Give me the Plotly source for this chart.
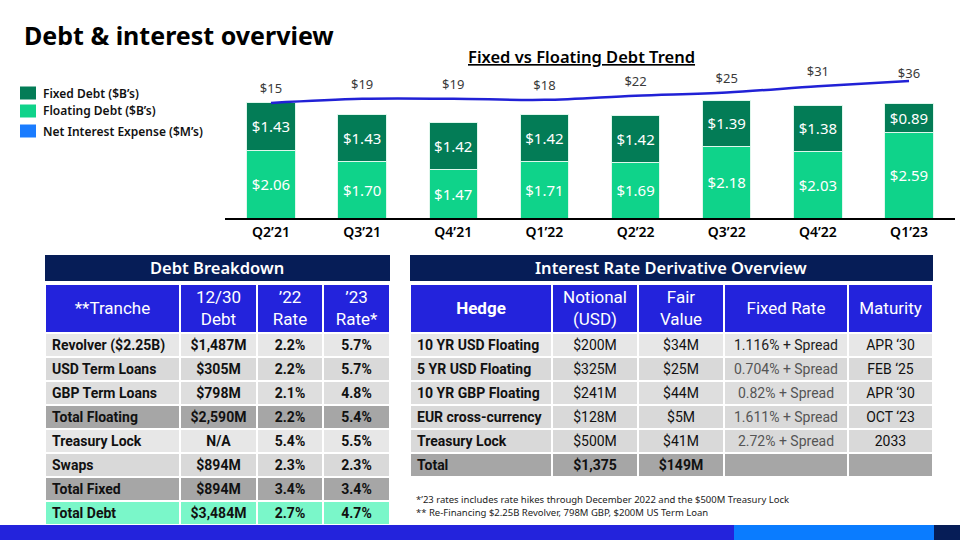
import plotly.graph_objects as go

# ---------------- data ----------------
quarters = ["Q2’21", "Q3’21", "Q4’21", "Q1’22", "Q2’22", "Q3’22", "Q4’22", "Q1’23"]
fixed_debt = [1.43, 1.43, 1.42, 1.42, 1.42, 1.39, 1.38, 0.89]
floating_debt = [2.06, 1.70, 1.47, 1.71, 1.69, 2.18, 2.03, 2.59]
net_interest = [15, 19, 19, 18, 22, 25, 31, 36]

debt_header = ["**Tranche", "12/30<br>Debt", "’22<br>Rate", "’23<br>Rate*"]
debt_tranche = ["Revolver ($2.25B)", "USD Term Loans", "GBP Term Loans", "Total Floating",
                "Treasury Lock", "Swaps", "Total Fixed", "Total Debt"]
debt_amount = ["$1,487M", "$305M", "$798M", "$2,590M", "N/A", "$894M", "$894M", "$3,484M"]
rate_22 = ["2.2%", "2.2%", "2.1%", "2.2%", "5.4%", "2.3%", "3.4%", "2.7%"]
rate_23 = ["5.7%", "5.7%", "4.8%", "5.4%", "5.5%", "2.3%", "3.4%", "4.7%"]

deriv_header = ["<b>Hedge</b>", "Notional<br>(USD)", "Fair<br>Value", "Fixed Rate", "Maturity"]
hedge = ["10 YR USD Floating", "5 YR USD Floating", "10 YR GBP Floating",
         "EUR cross-currency", "Treasury Lock", "Total"]
notional = ["$200M", "$325M", "$241M", "$128M", "$500M", "$1,375"]
fair_value = ["$34M", "$25M", "$44M", "$5M", "$41M", "$149M"]
fixed_rate = ["1.116% + Spread", "0.704% + Spread", "0.82% + Spread",
              "1.611% + Spread", "2.72% + Spread", ""]
maturity = ["APR ‘30", "FEB ‘25", "APR ‘30", "OCT ‘23", "2033", ""]

footnotes = ["*’23 rates includes rate hikes through December 2022 and the $500M Treasury Lock",
             "** Re-Financing $2.25B Revolver, 798M GBP, $200M US Term Loan"]

# ---------------- styles ----------------
FONT = "Noto Sans"
TFONT = "Roboto"
C_FIXED = "#037c56"
C_FLOAT = "#0fd38a"
C_NIE_LEG = "#1a7cff"
C_LINE = "#2121d6"
C_NAVY = "#061d57"
C_BLUE = "#2323dc"
# fill palette used by the table cells (code -> colour)
FILLS = [C_BLUE, "#e7e7e7", "#d9d9d9", "#dedede", "#a6a6a6", "#7af7c9"]

W, H = 960, 540


def px(x):
    return x / W


def py(y):
    return 1 - y / H


fig = go.Figure()

fig.add_trace(go.Bar(
    x=quarters, y=floating_debt, name="Floating Debt ($B’s)",
    marker=dict(color=C_FLOAT, line=dict(color="#dff7ec", width=1)),
    texttemplate="$%{y:.2f}", textposition="inside", insidetextanchor="middle",
    textfont=dict(color="white", size=15, family=FONT), showlegend=False, hoverinfo="skip",
))
fig.add_trace(go.Bar(
    x=quarters, y=fixed_debt, name="Fixed Debt ($B’s)",
    marker=dict(color=C_FIXED, line=dict(color="#dff7ec", width=1)),
    texttemplate="$%{y:.2f}", textposition="inside", insidetextanchor="middle",
    textfont=dict(color="white", size=15, family=FONT), showlegend=False, hoverinfo="skip",
))
fig.add_trace(go.Scatter(
    x=quarters, y=net_interest, yaxis="y2", mode="lines+markers+text",
    line=dict(color=C_LINE, width=2.5, shape="spline"),
    marker=dict(size=[9] * (len(net_interest) - 1) + [0], opacity=0, line=dict(width=0)),
    text=[f"${v}" for v in net_interest], textposition="top center",
    textfont=dict(color="#3a3a3a", size=13, family=FONT),
    cliponaxis=False, showlegend=False, hoverinfo="skip",
))

# ---------------- tables (heatmap cells + text) ----------------
TOP = 284
HEAD_H = 49
ROW_H = 24
layout_axes = {}


def add_table(idx, x0, widths, header, columns, row_codes, bold_cols, col_colors, bold_rows=()):
    nrows = len(columns[0])
    xe = [0]
    for w in widths:
        xe.append(xe[-1] + w)
    ye = [0, HEAD_H] + [HEAD_H + ROW_H * (r + 1) for r in range(nrows)]
    total_w, total_h = xe[-1], ye[-1]
    codes = [[0] * len(widths)] + [[c] * len(widths) for c in row_codes]
    n = len(FILLS)
    cs = []
    for k, c in enumerate(FILLS):
        cs += [[k / n, c], [(k + 1) / n, c]]
    xa, ya = f"x{idx}", f"y{idx}"
    fig.add_trace(go.Heatmap(
        x=xe, y=ye, z=codes, colorscale=cs, zmin=-0.5, zmax=n - 0.5, showscale=False,
        xgap=2, ygap=2, hoverinfo="skip", xaxis=xa, yaxis=ya,
    ))
    tx, ty, tt, tpos, tcol, tsize = [], [], [], [], [], []
    for ci, lab in enumerate(header):
        tx.append((xe[ci] + xe[ci + 1]) / 2)
        ty.append((ye[0] + ye[1]) / 2 + 1)
        tt.append(lab)
        tpos.append("middle center")
        tcol.append("white")
        tsize.append(17)
    for ci, col in enumerate(columns):
        for ri, val in enumerate(col):
            left = ci == 0
            tx.append(xe[ci] + 7 if left else (xe[ci] + xe[ci + 1]) / 2)
            ty.append((ye[ri + 1] + ye[ri + 2]) / 2 + 1.5)
            bold = ci in bold_cols or ri in bold_rows
            tt.append(f"<b>{val}</b>" if (bold and val) else val)
            tpos.append("middle right" if left else "middle center")
            tcol.append(col_colors[ci][ri])
            tsize.append(14)
    fig.add_trace(go.Scatter(
        x=tx, y=ty, text=tt, mode="text", textposition=tpos,
        textfont=dict(color=tcol, size=tsize, family=TFONT),
        xaxis=xa, yaxis=ya, hoverinfo="skip", showlegend=False, cliponaxis=False,
    ))
    layout_axes[f"xaxis{idx}"] = dict(domain=[px(x0), px(x0 + total_w)], range=[0, total_w],
                                      visible=False, anchor=ya, fixedrange=True)
    layout_axes[f"yaxis{idx}"] = dict(domain=[py(TOP + total_h), py(TOP)], range=[total_h, 0],
                                      visible=False, anchor=xa, fixedrange=True)


DARK = "#111111"
debt_cols = [debt_tranche, debt_amount, rate_22, rate_23]
add_table(3, 45, [135, 77, 66, 67], debt_header, debt_cols,
          row_codes=[1, 2, 3, 4, 1, 2, 4, 5], bold_cols={0, 1, 2, 3},
          col_colors=[[DARK] * len(debt_tranche)] * 4)

n2 = len(hedge)
deriv_cols = [hedge, notional, fair_value, fixed_rate, maturity]
add_table(4, 410, [142, 86, 86, 124, 85], deriv_header, deriv_cols,
          row_codes=[1, 2, 3, 2, 2, 4], bold_cols={0}, bold_rows={n2 - 1},
          col_colors=[[DARK] * n2, [DARK] * n2, [DARK] * n2,
                      ["#222222"] + ["#555555"] * (n2 - 1), [DARK] * n2])

# ---------------- shapes & annotations ----------------
shapes = [
    dict(type="rect", xref="paper", yref="paper", x0=px(45), x1=px(390), y0=py(281), y1=py(255),
         fillcolor=C_NAVY, line=dict(width=0)),
    dict(type="rect", xref="paper", yref="paper", x0=px(410), x1=px(933), y0=py(281), y1=py(255),
         fillcolor=C_NAVY, line=dict(width=0)),
    dict(type="rect", xref="paper", yref="paper", x0=0, x1=px(734), y0=py(540), y1=py(525),
         fillcolor=C_BLUE, line=dict(width=0)),
    dict(type="rect", xref="paper", yref="paper", x0=px(734), x1=px(934), y0=py(540), y1=py(525),
         fillcolor="#0a7cff", line=dict(width=0)),
    dict(type="rect", xref="paper", yref="paper", x0=px(934), x1=1, y0=py(540), y1=py(525),
         fillcolor=C_NAVY, line=dict(width=0)),
]
annotations = [
    dict(text="<b>Debt & interest overview</b>", x=px(22), y=py(35), xref="paper", yref="paper",
         xanchor="left", yanchor="middle", showarrow=False, font=dict(size=25, color="black", family=FONT)),
    dict(text="<u>Fixed vs Floating Debt Trend</u>", x=px(581), y=py(57), xref="paper", yref="paper",
         xanchor="center", yanchor="middle", showarrow=False,
         font=dict(size=16.5, color="black", family=FONT, weight=600)),
    dict(text="Debt Breakdown", x=px(217), y=py(268), xref="paper", yref="paper",
         xanchor="center", yanchor="middle", showarrow=False,
         font=dict(size=16.5, color="white", family=FONT, weight=600)),
    dict(text="Interest Rate Derivative Overview", x=px(671), y=py(268), xref="paper", yref="paper",
         xanchor="center", yanchor="middle", showarrow=False,
         font=dict(size=16.5, color="white", family=FONT, weight=600)),
]

legend_items = [("Fixed Debt ($B’s)", C_FIXED, 93), ("Floating Debt ($B’s)", C_FLOAT, 111),
                ("Net Interest Expense ($M’s)", C_NIE_LEG, 131)]
for label, color, yc in legend_items:
    shapes.append(dict(type="rect", xref="paper", yref="paper", x0=px(20), x1=px(36),
                       y0=py(yc + 6.5), y1=py(yc - 6.5), fillcolor=color, line=dict(width=0)))
    annotations.append(dict(text=label, x=px(41), y=py(yc), xref="paper", yref="paper",
                            xanchor="left", yanchor="middle", showarrow=False,
                            font=dict(size=12, color="#111111", family=FONT, weight=600)))
for i, note in enumerate(footnotes):
    annotations.append(dict(text=note, x=px(414), y=py(499 + 13 * i), xref="paper", yref="paper",
                            xanchor="left", yanchor="middle", showarrow=False,
                            font=dict(size=9.5, color="#222222", family=FONT)))

fig.update_layout(
    width=W, height=H, autosize=False,
    margin=dict(l=0, r=0, t=0, b=0),
    paper_bgcolor="white", plot_bgcolor="white",
    barmode="stack", bargap=0.47,
    font=dict(family=FONT),
    xaxis=dict(domain=[px(225.4), px(954.6)], showline=True, linecolor="black", linewidth=1.5,
               ticks="", showgrid=False, tickfont=dict(size=14, color="black", family=FONT, weight=600),
               fixedrange=True),
    yaxis=dict(domain=[py(218), py(70)], range=[0, 148 / 33], visible=False, showgrid=False),
    yaxis2=dict(overlaying="y", range=[-94.5, 46.4], visible=False, showgrid=False),
    shapes=shapes, annotations=annotations,
    **layout_axes,
)

fig.write_html("out.html", config={"displayModeBar": False},
               post_script="document.body.style.margin='0px';document.body.style.overflow='hidden';")
